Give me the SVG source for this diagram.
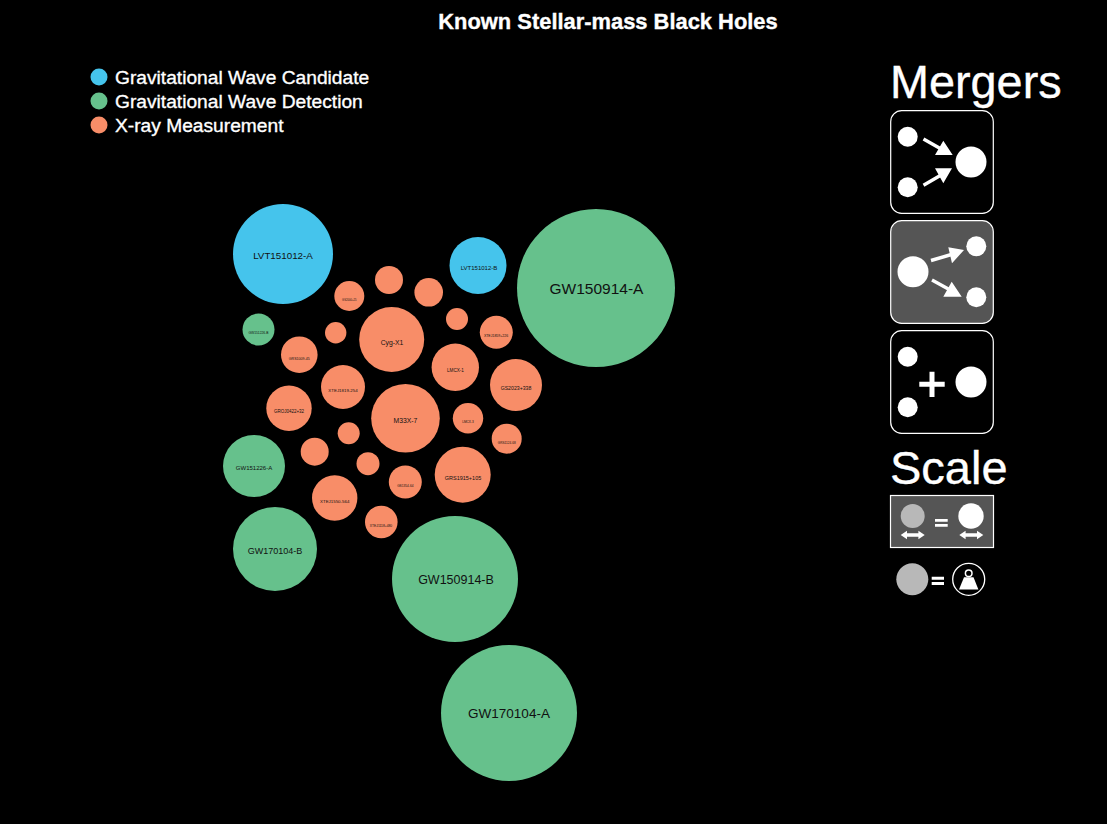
<svg xmlns="http://www.w3.org/2000/svg" width="1107" height="824" viewBox="0 0 1107 824">
<style>
text{font-family:"Liberation Sans",Arial,sans-serif}
.t{fill:#fff;stroke:#fff;stroke-width:.35}
.l{fill:#111;text-anchor:middle}
.b{fill:#45c4ec}.g{fill:#66c18c}.o{fill:#f88d68}
.w{fill:#fff}.gr{fill:#b8b8b8}
.p{stroke:#fff;stroke-width:1.2}
.a{stroke:#fff;stroke-width:3.4;fill:none}
</style>
<rect width="1107" height="824" fill="#000"/>
<text class="t" x="608" y="28.500" font-size="21.900" font-weight="bold" text-anchor="middle">Known Stellar-mass Black Holes</text>
<g id="legend">
<circle class="b" cx="99" cy="77" r="8.500"/><text class="t" x="115" y="83.500" font-size="19.200">Gravitational Wave Candidate</text>
<circle class="g" cx="99" cy="101" r="8.500"/><text class="t" x="115" y="107.500" font-size="19.200">Gravitational Wave Detection</text>
<circle class="o" cx="99" cy="125" r="8.500"/><text class="t" x="115" y="131.500" font-size="19.200">X-ray Measurement</text>
</g>
<g id="bubbles">
<g id="LVT151012-A"><circle class="b" cx="283" cy="254" r="50"/><text class="l" x="283" y="259" font-size="9.800">LVT151012-A</text></g>
<g id="LVT151012-B"><circle class="b" cx="478" cy="265.500" r="28.500"/><text class="l" x="479" y="270" font-size="6">LVT151012-B</text></g>
<g id="GW150914-A"><circle class="g" cx="596" cy="288" r="79"/><text class="l" x="596.500" y="293.500" font-size="15.500">GW150914-A</text></g>
<g id="GW151226-B"><circle class="g" cx="258.500" cy="329.500" r="16"/><text class="l" x="258.500" y="334" font-size="3.300">GW151226-B</text></g>
<g id="GW151226-A"><circle class="g" cx="254" cy="466" r="31"/><text class="l" x="254" y="470" font-size="6">GW151226-A</text></g>
<g id="GW170104-B"><circle class="g" cx="275" cy="549" r="42"/><text class="l" x="275" y="553.500" font-size="9">GW170104-B</text></g>
<g id="GW150914-B"><circle class="g" cx="455" cy="579" r="63"/><text class="l" x="456" y="584" font-size="12.500">GW150914-B</text></g>
<g id="GW170104-A"><circle class="g" cx="509" cy="713" r="68"/><text class="l" x="509" y="717.500" font-size="13.500">GW170104-A</text></g>
<g id="Cyg-X1"><circle class="o" cx="391.700" cy="339.500" r="32.500"/><text class="l" x="392" y="344.500" font-size="6.800">Cyg-X1</text></g>
<g id="M33X-7"><circle class="o" cx="405.500" cy="418.300" r="34.300"/><text class="l" x="405.500" y="423" font-size="6.800">M33X-7</text></g>
<g id="LMCX-1"><circle class="o" cx="455.300" cy="367.300" r="23.700"/><text class="l" x="455.500" y="372" font-size="4.600">LMCX-1</text></g>
<g id="GS2023"><circle class="o" cx="516" cy="385" r="26"/><text class="l" x="516" y="389.500" font-size="5.200">GS2023+338</text></g>
<g id="GRS1915"><circle class="o" cx="462.700" cy="474.700" r="28"/><text class="l" x="463" y="480" font-size="5.500">GRS1915+105</text></g>
<g id="XTEJ1859"><circle class="o" cx="496.300" cy="332.300" r="16.500"/><text class="l" x="496" y="337" font-size="3.500">XTEJ1859+226</text></g>
<g id="XTEJ1819"><circle class="o" cx="343" cy="387" r="22"/><text class="l" x="343" y="391.500" font-size="4.400">XTEJ1819-254</text></g>
<g id="XTEJ1550"><circle class="o" cx="334.700" cy="498" r="22.700"/><text class="l" x="334.700" y="502.500" font-size="4.400">XTEJ1550-564</text></g>
<g id="XTEJ1118"><circle class="o" cx="381.300" cy="522" r="16.300"/><text class="l" x="381" y="527" font-size="3.300">XTEJ1118+480</text></g>
<g id="GROJ0422"><circle class="o" cx="289" cy="408.300" r="22.700"/><text class="l" x="289" y="412.500" font-size="4.500">GROJ0422+32</text></g>
<g id="GRS1009"><circle class="o" cx="299.300" cy="354.700" r="18.300"/><text class="l" x="299.300" y="359.500" font-size="3.600">GRS1009-45</text></g>
<g id="GS2000"><circle class="o" cx="349.300" cy="296" r="15"/><text class="l" x="349.300" y="300.500" font-size="2.700">GS2000+25</text></g>
<g id="LMCX-3"><circle class="o" cx="468" cy="418.300" r="15.200"/><text class="l" x="468" y="423" font-size="3.200">LMCX-3</text></g>
<g id="GRS1124"><circle class="o" cx="506.700" cy="438.700" r="15"/><text class="l" x="506.700" y="443.500" font-size="3.100">GRS1124-68</text></g>
<g id="GS1354"><circle class="o" cx="405.300" cy="482" r="16.500"/><text class="l" x="405.300" y="486.500" font-size="3.200">GS1354-64</text></g>
<g id="b1"><circle class="o" cx="389" cy="280" r="14"/></g>
<g id="b2"><circle class="o" cx="428.700" cy="292.300" r="14.300"/></g>
<g id="b3"><circle class="o" cx="335.700" cy="332.700" r="10.700"/></g>
<g id="b4"><circle class="o" cx="457" cy="319" r="11"/></g>
<g id="b5"><circle class="o" cx="348.700" cy="433.300" r="11"/></g>
<g id="b6"><circle class="o" cx="314.700" cy="451.700" r="14"/></g>
<g id="b7"><circle class="o" cx="368" cy="463.700" r="11.500"/></g>
</g>
<text class="t" x="890" y="98" font-size="46.800">Mergers</text>
<g id="merge-icon">
<rect class="p" x="890.700" y="110.700" width="102.600" height="102.600" rx="11" fill="#000"/>
<circle class="w" cx="907.700" cy="136.700" r="10"/><circle class="w" cx="907.700" cy="187.300" r="10"/><circle class="w" cx="971" cy="162" r="15.500"/>
<path class="a" d="M923.500 139L942 149.500M923.500 185.300L942 174.500"/>
<path class="w" d="M952.700 155L943.300 140.700L935 155ZM952 168.300L935 168.300L943.300 183.300Z"/>
</g>
<g id="split-icon">
<rect class="p" x="890.700" y="220.700" width="102.600" height="102.600" rx="11" fill="#555"/>
<circle class="w" cx="913" cy="271.700" r="15.500"/><circle class="w" cx="976.300" cy="246.300" r="10"/><circle class="w" cx="976.300" cy="297.300" r="10"/>
<path class="a" d="M931 260.500L953 254M932 280L952 291"/>
<path class="w" d="M964 250L948.300 247.300L952 263.300ZM961.700 296.700L943.300 296.700L951.700 281.700Z"/>
</g>
<g id="plus-icon">
<rect class="p" x="890.700" y="330.700" width="102.600" height="102.600" rx="11" fill="#000"/>
<circle class="w" cx="907.700" cy="356.700" r="10"/><circle class="w" cx="907.700" cy="407.300" r="10"/><circle class="w" cx="971" cy="382" r="15.500"/>
<path class="w" d="M919.300 381.800H929.500V371.700H934.500V381.800H944.700V386.800H934.500V397H929.500V386.800H919.300Z"/>
</g>
<text class="t" x="890" y="484" font-size="47">Scale</text>
<g id="scale-size">
<rect x="890.500" y="495.500" width="103" height="52" fill="#555" stroke="#fff" stroke-width="1.200"/>
<circle class="gr" cx="912.700" cy="516" r="12"/><circle class="w" cx="971" cy="516" r="12.700"/>
<path class="w" d="M935 519h12.700v2.800h-12.700zM935 524h12.700v2.800h-12.700z"/>
<path class="w" d="M900.700 535L907 530.800V533.300H918.400V530.800L924.700 535L918.400 539.200V536.700H907V539.200Z"/>
<path class="w" d="M959.300 535L965.600 530.800V533.300H977V530.800L983.300 535L977 539.200V536.700H965.600V539.200Z"/>
</g>
<g id="scale-mass">
<circle class="gr" cx="912.300" cy="579.300" r="16"/>
<path class="w" d="M931.700 576.700h12.300v3h-12.300zM931.700 581.900h12.300v3h-12.300z"/>
<circle cx="968.700" cy="579.300" r="16" fill="#000" stroke="#fff" stroke-width="1.300"/>
<circle cx="968.700" cy="573.300" r="3.300" fill="none" stroke="#fff" stroke-width="1.500"/>
<path class="w" d="M959 589.500H978.400L973.500 577.300H964Z"/>
</g>
</svg>
